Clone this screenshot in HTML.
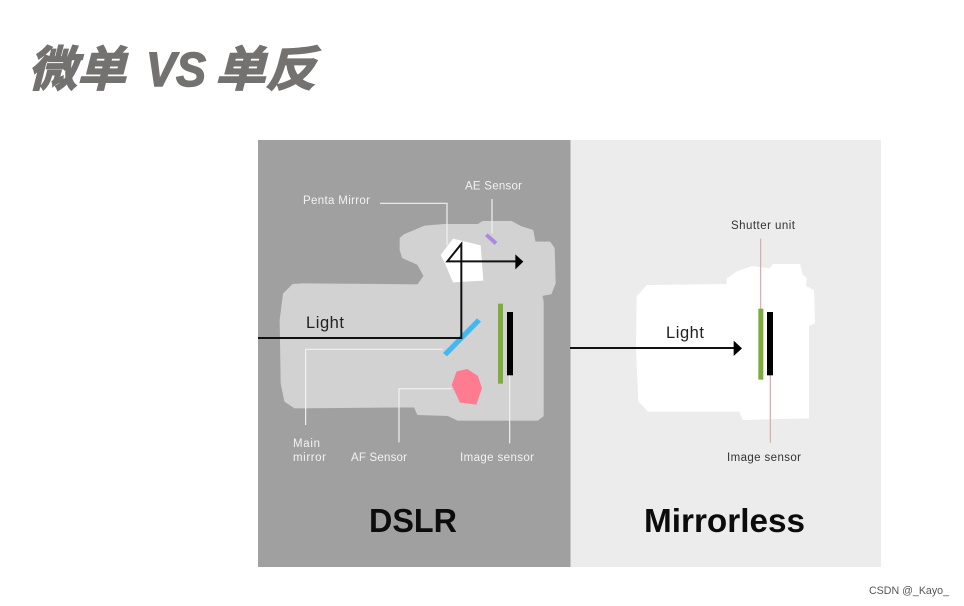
<!DOCTYPE html>
<html>
<head>
<meta charset="utf-8">
<style>
html,body{margin:0;padding:0;background:#fff;width:964px;height:606px;overflow:hidden}
svg{display:block}
text{font-family:"Liberation Sans","Noto Sans CJK SC",sans-serif}
.soft{filter:blur(.35px)}
</style>
</head>
<body>
<svg width="964" height="606" viewBox="0 0 964 606" xmlns="http://www.w3.org/2000/svg">
<rect width="964" height="606" fill="#fff"/>
<g class="soft" font-size="48" font-weight="700" fill="#737271" font-style="italic" stroke="#737271" stroke-width="1.400">
<text x="28" y="86" textLength="98" lengthAdjust="spacingAndGlyphs">微单</text>
<text x="146" y="86" textLength="60" lengthAdjust="spacingAndGlyphs">VS</text>
<text x="215" y="86" textLength="101" lengthAdjust="spacingAndGlyphs">单反</text>
</g>

<rect x="258" y="140" width="312.500" height="427" fill="#a0a0a0"/>
<rect x="570.500" y="140" width="310.500" height="427" fill="#ececec"/>

<g class="soft">
<g transform="translate(258 170) scale(.33333)">
<polygon fill="#d2d2d2" stroke="#d2d2d2" stroke-width="6" stroke-linejoin="round" points="428,205 440,195 500,170 560,165 660,165 675,156 760,156 790,172 823,182 830,218 875,218 887,235 890,340 878,370 850,375 854,395 854,737 838,749 600,749 570,735 480,732 470,709 110,712 82,693 71,640 68,450 78,372 105,345 130,343 480,346 500,318 480,282 435,262 428,240"/>
<polygon fill="#fff" points="548,255 585,206 668,226 676,332 585,337 563,285"/>
<polygon fill="#a98ae0" points="681,198 689,190 718,216 710,225"/>
<polygon fill="#42b8f0" points="555,549 657,445 669,455 567,559"/>
<polygon fill="#ff7c90" points="581,645 596,604 628,597 660,618 672,655 655,704 606,698"/>
<rect x="720" y="401" width="15" height="240" fill="#7fac3c"/>
<rect x="747" y="426" width="18" height="190" fill="#000"/>
<g fill="none" stroke="#f2f2f2" stroke-width="3.500">
<polyline points="366,100 567,100 567,225"/>
<line x1="702" y1="87" x2="702" y2="190"/>
<polyline points="555,538 143,538 143,765"/>
<polyline points="581,656 423,656 423,817"/>
<line x1="755" y1="616" x2="755" y2="820"/>
</g>
<polyline fill="none" stroke="#111" stroke-width="6" points="0,504 610,504 610,222 568,274 775,274"/>
<polygon fill="#000" points="772,253 796,275 772,298"/>
</g>

<g transform="translate(570 200) scale(.33333)">
<polygon fill="#fff" stroke="#fff" stroke-width="6" stroke-linejoin="round" points="203,290 232,258 473,255 473,237 500,218 545,201 600,208 610,195 688,195 695,225 707,235 705,260 729,272 732,368 714,376 714,652 520,657 510,632 235,632 208,603 201,450"/>
<line x1="572" y1="116" x2="572" y2="330" stroke="#e0a3aa" stroke-width="3.500"/>
<line x1="601" y1="525" x2="601" y2="728" stroke="#e0a3aa" stroke-width="3.500"/>
<rect x="565" y="326" width="15" height="213" fill="#7fac3c"/>
<rect x="591" y="336" width="18" height="190" fill="#000"/>
<line x1="0" y1="444" x2="495" y2="444" stroke="#111" stroke-width="6"/>
<polygon fill="#000" points="491,422 516,445 491,468"/>
</g>

<g font-size="11.500" fill="#f2f2f2" lengthAdjust="spacing">
<text x="303" y="204" textLength="67">Penta Mirror</text>
<text x="465" y="189.500" textLength="57">AE Sensor</text>
<text x="293" y="447" textLength="27">Main</text>
<text x="293" y="461" textLength="33">mirror</text>
<text x="351" y="461" textLength="56">AF Sensor</text>
<text x="460" y="461" textLength="74">Image sensor</text>
</g>
<g font-size="11.500" fill="#333">
<text x="731" y="229" textLength="64">Shutter unit</text>
<text x="727" y="461" textLength="74">Image sensor</text>
</g>
<text x="306" y="328" font-size="16.500" fill="#222" textLength="38">Light</text>
<text x="666" y="338" font-size="16.500" fill="#222" textLength="38">Light</text>
<text x="369" y="532" font-size="33" font-weight="700" fill="#0c0c0c" textLength="88" lengthAdjust="spacingAndGlyphs">DSLR</text>
<text x="644" y="532" font-size="33" font-weight="700" fill="#0c0c0c" textLength="161" lengthAdjust="spacingAndGlyphs">Mirrorless</text>
<text x="869" y="594" font-size="11" fill="#555" textLength="80" lengthAdjust="spacingAndGlyphs">CSDN @_Kayo_</text>
</g>
</svg>
</body>
</html>
